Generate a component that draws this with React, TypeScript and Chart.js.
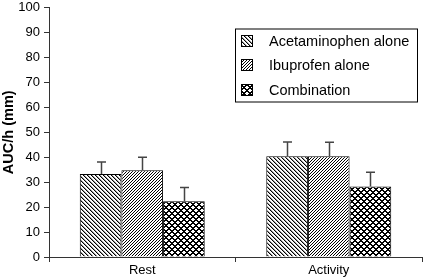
import React, { useEffect, useRef } from 'react';
import { Chart, registerables } from 'chart.js';
Chart.register(...registerables);

const categories = ['Rest', 'Activity'];
const seriesNames = ['Acetaminophen alone', 'Ibuprofen alone', 'Combination'];
const acetaminophen = [33.3, 40.4];
const ibuprofen = [34.8, 40.4];
const combination = [22.3, 28.3];
const acetaminophenErr = [4.8, 5.7];
const ibuprofenErr = [5.2, 5.6];
const combinationErr = [5.6, 5.7];
const yTitle = 'AUC/h (mm)';

const FONT = "'Liberation Sans', Arial, Helvetica, sans-serif";

function makePattern(kind: string): CanvasPattern | string {
  const c = document.createElement('canvas');
  const n = kind === 'cross' ? 6 : kind === 'fwd' ? 3 : 4;
  c.width = n;
  c.height = n;
  const g = c.getContext('2d')!;
  g.fillStyle = '#fff';
  g.fillRect(0, 0, n, n);
  for (let y = 0; y < n; y++) {
    for (let x = 0; x < n; x++) {
      let col = '';
      if (kind === 'back') {
        const d = (x - y + n) % n;
        if (d === 0) col = '#000';
        else if (d === 1) col = '#9a9a9a';
      } else if (kind === 'fwd') {
        const d = (x + y) % n;
        if (d === 0) col = '#000';
      } else {
        const a = (x + y) % n;
        const b = (x - y + n) % n;
        if (a === 0 || a === 1 || b === 0 || b === 1) col = '#000';
      }
      if (col) {
        g.fillStyle = col;
        g.fillRect(x, y, 1, 1);
      }
    }
  }
  const p = g.createPattern(c, 'repeat');
  return p || '#888';
}

export default function App() {
  const ref = useRef<HTMLCanvasElement | null>(null);
  useEffect(() => {
    if (!ref.current) return;
    const fills = [makePattern('back'), makePattern('fwd'), makePattern('cross')];
    const values = [acetaminophen, ibuprofen, combination];
    const errs = [acetaminophenErr, ibuprofenErr, combinationErr];

    const errorBars = {
      id: 'errorBars',
      afterDatasetsDraw(chart: any) {
        const ctx = chart.ctx;
        const ys = chart.scales.y;
        ctx.save();
        ctx.strokeStyle = '#444';
        ctx.lineWidth = 1.5;
        chart.data.datasets.forEach((ds: any, i: number) => {
          const meta = chart.getDatasetMeta(i);
          meta.data.forEach((bar: any, j: number) => {
            const v = values[i][j];
            const top = ys.getPixelForValue(v + errs[i][j]);
            const x = Math.round(bar.x) + 0.5;
            ctx.beginPath();
            ctx.moveTo(x, bar.y);
            ctx.lineTo(x, top);
            ctx.moveTo(x - 4.5, top);
            ctx.lineTo(x + 4.5, top);
            ctx.stroke();
          });
        });
        ctx.restore();
      },
    };

    const legendBox = {
      id: 'legendBox',
      afterDraw(chart: any) {
        const ctx = chart.ctx;
        const a = chart.chartArea;
        const left = a.right - 187;
        const top = a.top + 21;
        const w = 182;
        const h = 73;
        ctx.save();
        ctx.fillStyle = '#fff';
        ctx.fillRect(left, top, w, h);
        ctx.strokeStyle = '#000';
        ctx.lineWidth = 1;
        ctx.strokeRect(left + 0.5, top + 0.5, w, h);
        ctx.font = `14.5px ${FONT}`;
        ctx.textBaseline = 'middle';
        ctx.textAlign = 'left';
        chart.data.datasets.forEach((ds: any, i: number) => {
          const cy = top + 12 + i * 24.5;
          const sx = left + 6;
          const sy = Math.round(cy - 6);
          ctx.fillStyle = ds.backgroundColor;
          ctx.fillRect(sx, sy, 12, 12);
          ctx.strokeStyle = '#000';
          ctx.strokeRect(sx + 0.5, sy + 0.5, 11, 11);
          ctx.fillStyle = '#000';
          ctx.fillText(ds.label, left + 34, cy + 1);
        });
        ctx.restore();
      },
    };

    const chart = new Chart(ref.current, {
      type: 'bar',
      data: {
        labels: categories,
        datasets: seriesNames.map((name, i) => ({
          label: name,
          data: values[i],
          backgroundColor: fills[i] as any,
          borderColor: '#000',
          borderWidth: 1,
          barPercentage: 1,
          categoryPercentage: 0.67,
        })),
      },
      options: {
        responsive: false,
        animation: false,
        layout: { padding: { top: 0, right: 1, left: 0, bottom: 0 } },
        plugins: { legend: { display: false }, tooltip: { enabled: false } },
        scales: {
          x: {
            grid: { display: true, drawOnChartArea: false, drawTicks: true, tickLength: 5, color: '#333', offset: true },
            border: { display: true, color: '#333', width: 1 },
            ticks: { color: '#000', font: { size: 13, family: FONT }, padding: 1 },
            afterFit: (s: any) => { s.height = 20; },
          },
          y: {
            min: 0,
            max: 100,
            ticks: { stepSize: 10, color: '#000', font: { size: 13, family: FONT }, padding: 4 },
            grid: { display: true, drawOnChartArea: false, drawTicks: true, tickLength: 5, color: '#333' },
            border: { display: true, color: '#333', width: 1 },
            title: { display: true, text: yTitle, color: '#000', font: { size: 14.5, weight: 'bold', family: FONT }, padding: 0 },
            afterFit: (s: any) => { s.width = 49; s.paddingTop = 7.5; },
          },
        },
      },
      plugins: [errorBars, legendBox],
    });
    return () => chart.destroy();
  }, []);
  return (
    <div style={{ position: 'absolute', left: 0, top: 0, width: 423, height: 277, background: '#fff' }}>
      <canvas ref={ref} width={423} height={277} />
    </div>
  );
}
